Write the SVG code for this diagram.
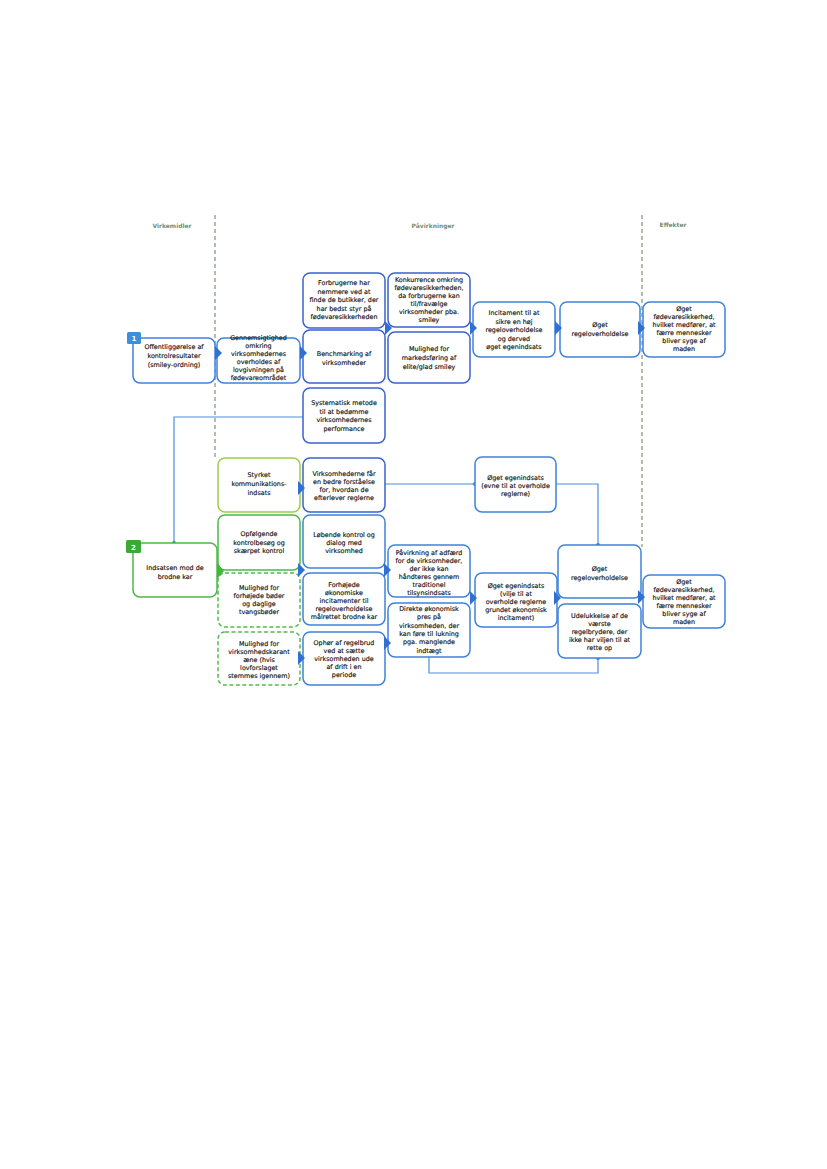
<svg xmlns="http://www.w3.org/2000/svg" width="827" height="1169" viewBox="0 0 827 1169">
<style>
.bg{fill:#ffffff}
.b{fill:#fff;stroke:#3f82da;stroke-width:1.5}
.bd{fill:#fff;stroke:#3a63cf;stroke-width:1.5}
.g{fill:#fff;stroke:#4db848;stroke-width:1.5}
.gy{fill:#fff;stroke:#9fcd45;stroke-width:1.5}
.gd{fill:#fff;stroke:#55bb4a;stroke-width:1.5;stroke-dasharray:4 2.5}
text{font-family:"DejaVu Sans","Verdana",sans-serif;font-size:6.4px;fill:#111;stroke:#111;stroke-width:0.15;text-anchor:middle}
.h{font-size:6px;font-weight:bold;fill:#6e8f78;stroke:none}
.bt{fill:#fff;stroke:none;font-size:7px;font-weight:bold}
.tri{fill:#2f70d2}
.trig{fill:#45b542}
.div{stroke:#6f8a70;stroke-width:1.1;stroke-dasharray:4 3;fill:none}
.ln{stroke:#4a8fe0;stroke-width:1.2;fill:none}
.dot{fill:#3a7fd6}
</style>
<rect class="bg" x="0" y="0" width="827" height="1169"/>

<g id="headers">
<text class="h" x="172" y="228">Virkemidler</text>
<text class="h" x="433" y="228">Påvirkninger</text>
<text class="h" x="673" y="227">Effekter</text>
<line class="div" x1="215" y1="215" x2="215" y2="457"/>
<line class="div" x1="642" y1="215" x2="642" y2="547"/>
</g>

<g id="connectors">
<polyline class="ln" points="303,417 174,417 174,543"/>
<circle class="dot" cx="174" cy="543" r="2"/>
<line class="ln" x1="385" y1="484" x2="475" y2="484"/>
<circle class="dot" cx="475" cy="484" r="2"/>
<polyline class="ln" points="556,484 598,484 598,545"/>
<circle class="dot" cx="598" cy="545" r="2"/>
<polyline class="ln" points="429,657 429,673 598,673 598,658"/>
<circle class="dot" cx="598" cy="658" r="2"/>
</g>

<g id="n1">
<rect class="b" x="133" y="338" width="82" height="45" rx="7"/>
<rect x="127" y="332" width="14" height="12" rx="1.5" fill="#3d8fd9"/>
<text class="bt" x="134" y="341">1</text>
<text x="174" y="349">Offentliggørelse af</text>
<text x="174" y="358">kontrolresultater</text>
<text x="174" y="367">(smiley-ordning)</text>
</g>

<g id="n_gennem">
<rect class="b" x="217" y="338" width="83" height="45" rx="7"/>
<text x="258.5" y="340">Gennemsigtighed</text>
<text x="258.5" y="348">omkring</text>
<text x="258.5" y="356">virksomhedernes</text>
<text x="258.5" y="364">overholdes af</text>
<text x="258.5" y="372">lovgivningen på</text>
<text x="258.5" y="380">fødevareområdet</text>
</g>

<g id="n_forbrug">
<rect class="bd" x="303" y="273" width="82" height="55" rx="7"/>
<text x="344" y="285">Forbrugerne har</text>
<text x="344" y="293.5">nemmere ved at</text>
<text x="344" y="302">finde de butikker, der</text>
<text x="344" y="310.5">har bedst styr på</text>
<text x="344" y="319">fødevaresikkerheden</text>
</g>

<g id="n_bench">
<rect class="bd" x="303" y="330" width="82" height="53" rx="7"/>
<text x="344" y="356">Benchmarking af</text>
<text x="344" y="364.5">virksomheder</text>
</g>

<g id="n_syst">
<rect class="bd" x="303" y="388" width="82" height="55" rx="7"/>
<text x="344" y="405">Systematisk metode</text>
<text x="344" y="413.5">til at bedømme</text>
<text x="344" y="422">virksomhedernes</text>
<text x="344" y="430.5">performance</text>
</g>

<g id="n_konk">
<rect class="bd" x="388" y="273" width="82" height="54" rx="7"/>
<text x="429" y="281.5">Konkurrence omkring</text>
<text x="429" y="289.5">fødevaresikkerheden,</text>
<text x="429" y="297.5">da forbrugerne kan</text>
<text x="429" y="305.5">til/fravælge</text>
<text x="429" y="313.5">virksomheder pba.</text>
<text x="429" y="321.5">smiley</text>
</g>

<g id="n_mark">
<rect class="bd" x="388" y="332" width="82" height="51" rx="7"/>
<text x="429" y="351">Mulighed for</text>
<text x="429" y="360">markedsføring af</text>
<text x="429" y="369">elite/glad smiley</text>
</g>

<g id="n_incit">
<rect class="b" x="473" y="302" width="82" height="55" rx="7"/>
<text x="514" y="315">Incitament til at</text>
<text x="514" y="323.5">sikre en høj</text>
<text x="514" y="332">regeloverholdelse</text>
<text x="514" y="340.5">og derved</text>
<text x="514" y="349">øget egenindsats</text>
</g>

<g id="n_regel1">
<rect class="b" x="560" y="302" width="80" height="55" rx="7"/>
<text x="600" y="327">Øget</text>
<text x="600" y="336">regeloverholdelse</text>
</g>

<g id="n_eff1">
<rect class="b" x="643" y="302" width="82" height="55" rx="7"/>
<text x="684" y="311">Øget</text>
<text x="684" y="319">fødevaresikkerhed,</text>
<text x="684" y="327">hvilket medfører, at</text>
<text x="684" y="335">færre mennesker</text>
<text x="684" y="343">bliver syge af</text>
<text x="684" y="351">maden</text>
</g>

<g id="n2">
<rect class="g" x="133" y="543" width="84" height="54" rx="7"/>
<rect x="126" y="540" width="15" height="13" rx="1.5" fill="#3aaa35"/>
<text class="bt" x="133.5" y="549.5">2</text>
<text x="175" y="569.5">Indsatsen mod de</text>
<text x="175" y="578.5">brodne kar</text>
</g>

<g id="n_styrk">
<rect class="gy" x="218" y="458" width="82" height="54" rx="7"/>
<text x="259" y="477">Styrket</text>
<text x="259" y="486">kommunikations-</text>
<text x="259" y="494.5">indsats</text>
</g>

<g id="n_opf">
<rect class="g" x="218" y="515" width="82" height="55" rx="7"/>
<text x="259" y="536">Opfølgende</text>
<text x="259" y="544.5">kontrolbesøg og</text>
<text x="259" y="553">skærpet kontrol</text>
</g>

<g id="n_boder">
<rect class="gd" x="218" y="573" width="82" height="54" rx="7"/>
<text x="259" y="590">Mulighed for</text>
<text x="259" y="598">forhøjede bøder</text>
<text x="259" y="606">og daglige</text>
<text x="259" y="614">tvangsbøder</text>
</g>

<g id="n_karant">
<rect class="gd" x="218" y="632" width="82" height="53" rx="7"/>
<text x="259" y="645.5">Mulighed for</text>
<text x="259" y="653.5">virksomhedskarant</text>
<text x="259" y="661.5">æne (hvis</text>
<text x="259" y="669.5">lovforslaget</text>
<text x="259" y="677.5">stemmes igennem)</text>
</g>

<g id="n_forst">
<rect class="bd" x="303" y="458" width="82" height="54" rx="7"/>
<text x="344" y="475.5">Virksomhederne får</text>
<text x="344" y="483.5">en bedre forståelse</text>
<text x="344" y="491.5">for, hvordan de</text>
<text x="344" y="499.5">efterlever reglerne</text>
</g>

<g id="n_lob">
<rect class="b" x="303" y="515" width="82" height="53" rx="7"/>
<text x="344" y="536.5">Løbende kontrol og</text>
<text x="344" y="544.5">dialog med</text>
<text x="344" y="552.5">virksomhed</text>
</g>

<g id="n_forh">
<rect class="b" x="303" y="573" width="82" height="52" rx="7"/>
<text x="344" y="586.5">Forhøjede</text>
<text x="344" y="594.5">økonomiske</text>
<text x="344" y="602.5">incitamenter til</text>
<text x="344" y="610.5">regeloverholdelse</text>
<text x="344" y="618.5">målrettet brodne kar</text>
</g>

<g id="n_ophor">
<rect class="b" x="303" y="632" width="82" height="53" rx="7"/>
<text x="344" y="644.5">Ophør af regelbrud</text>
<text x="344" y="652.5">ved at sætte</text>
<text x="344" y="660.5">virksomheden ude</text>
<text x="344" y="668.5">af drift i en</text>
<text x="344" y="676.5">periode</text>
</g>

<g id="n_pavirk">
<rect class="b" x="388" y="545" width="82" height="52" rx="7"/>
<text x="429" y="554.5">Påvirkning af adfærd</text>
<text x="429" y="562.5">for de virksomheder,</text>
<text x="429" y="570.5">der ikke kan</text>
<text x="429" y="578.5">håndteres gennem</text>
<text x="429" y="586.5">traditionel</text>
<text x="429" y="594.5">tilsynsindsats</text>
</g>

<g id="n_direkte">
<rect class="b" x="388" y="603" width="82" height="54" rx="7"/>
<text x="429" y="611">Direkte økonomisk</text>
<text x="429" y="619">pres på</text>
<text x="429" y="627.5">virksomheden, der</text>
<text x="429" y="636">kan føre til lukning</text>
<text x="429" y="644">pga. manglende</text>
<text x="429" y="652.5">indtægt</text>
</g>

<g id="n_evne">
<rect class="b" x="475" y="457" width="81" height="55" rx="7"/>
<text x="515.5" y="479.5">Øget egenindsats</text>
<text x="515.5" y="487.5">(evne til at overholde</text>
<text x="515.5" y="495.5">reglerne)</text>
</g>

<g id="n_vilje">
<rect class="b" x="475" y="573" width="82" height="54" rx="7"/>
<text x="516" y="587.5">Øget egenindsats</text>
<text x="516" y="595.5">(vilje til at</text>
<text x="516" y="603.5">overholde reglerne</text>
<text x="516" y="611.5">grundet økonomisk</text>
<text x="516" y="619.5">incitament)</text>
</g>

<g id="n_regel2">
<rect class="b" x="558" y="545" width="83" height="53" rx="7"/>
<text x="599.5" y="571">Øget</text>
<text x="599.5" y="579.5">regeloverholdelse</text>
</g>

<g id="n_udel">
<rect class="b" x="558" y="604" width="83" height="54" rx="7"/>
<text x="599.5" y="617.5">Udelukkelse af de</text>
<text x="599.5" y="625.5">værste</text>
<text x="599.5" y="633.5">regelbrydere, der</text>
<text x="599.5" y="641.5">ikke har viljen til at</text>
<text x="599.5" y="649.5">rette op</text>
</g>

<g id="n_eff2">
<rect class="b" x="643" y="575" width="82" height="53" rx="7"/>
<text x="684" y="584">Øget</text>
<text x="684" y="592">fødevaresikkerhed,</text>
<text x="684" y="600">hvilket medfører, at</text>
<text x="684" y="608">færre mennesker</text>
<text x="684" y="616">bliver syge af</text>
<text x="684" y="624">maden</text>
</g>

<g id="arrowheads">
<polygon class="tri" points="215,346 222,353 215,360"/>
<polygon class="tri" points="300,346 307,353 300,360"/>
<polygon class="tri" points="385,321 392,328 385,335"/>
<polygon class="tri" points="470,321 477,328 470,335"/>
<polygon class="tri" points="555,321 562,328 555,335"/>
<polygon class="tri" points="638,321 645,328 638,335"/>
<polygon class="trig" points="217,563 224,571 217,579"/>
<polygon class="tri" points="298,481 305,488 298,495"/>
<polygon class="tri" points="298,563 305,570 298,577"/>
<polygon class="tri" points="298,651 305,658 298,665"/>
<polygon class="tri" points="384,563 391,570 384,577"/>
<polygon class="tri" points="384,636 391,643 384,650"/>
<polygon class="tri" points="470,591 477,598 470,605"/>
<polygon class="tri" points="554,591 561,598 554,605"/>
<polygon class="tri" points="638,590 645,597 638,604"/>
</g>
</svg>
